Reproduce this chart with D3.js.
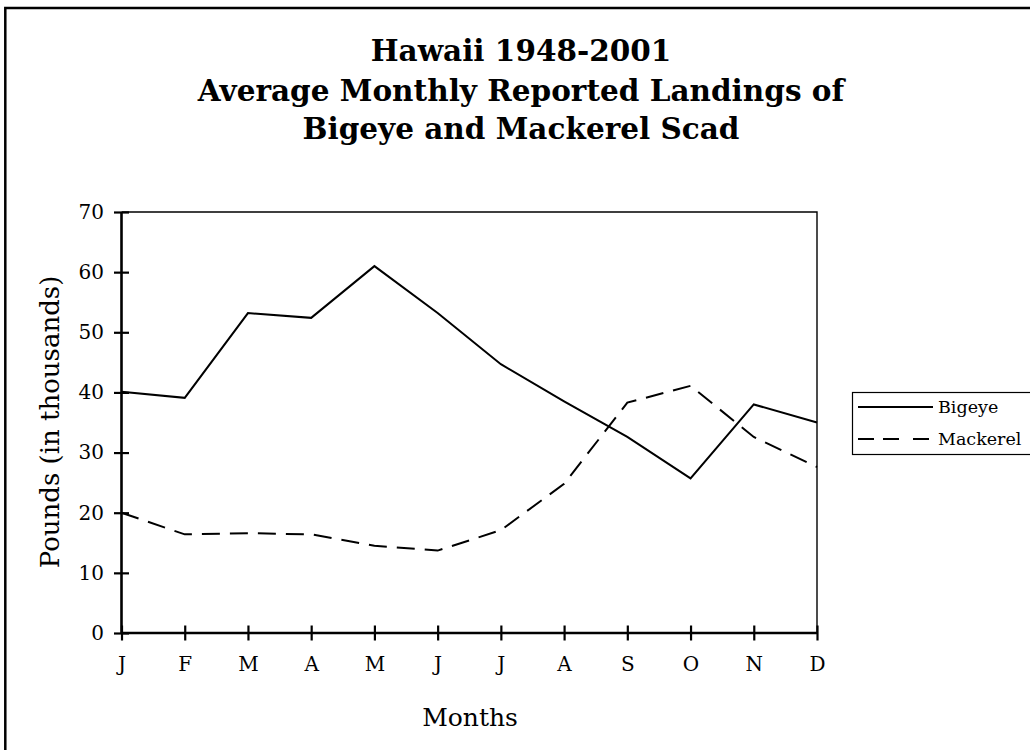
<!DOCTYPE html>
<html>
<head>
<meta charset="utf-8">
<script src="https://cdn.jsdelivr.net/npm/d3@7"></script>
<style>
  body { margin: 0; background: #fff; }
  svg { display: block; font-family: "DejaVu Serif", serif; }
  .axis path { display: none; }
</style>
</head>
<body>
<div id="chart"></div>
<script>
const months = ["J", "F", "M", "A", "M", "J", "J", "A", "S", "O", "N", "D"];
const bigeye = [40.1, 39.1, 53.2, 52.4, 61.0, 53.2, 44.7, 38.5, 32.6, 25.7, 38.0, 35.0];
const mackerel = [20.0, 16.4, 16.6, 16.4, 14.5, 13.7, 17.1, 24.8, 38.3, 41.1, 32.6, 27.6];
const yTicks = [0, 10, 20, 30, 40, 50, 60, 70];
const titleLines = ["Hawaii 1948-2001", "Average Monthly Reported Landings of", "Bigeye and Mackerel Scad"];
const seriesNames = ["Bigeye", "Mackerel"];

const width = 1030, height = 750;
const plot = {left: 121.5, top: 212, right: 817, bottom: 633};

const svg = d3.select("#chart").append("svg")
  .attr("width", width)
  .attr("height", height);

// outer frame (runs off the right and bottom edges)
svg.append("rect")
  .attr("x", 5.3).attr("y", 8)
  .attr("width", 1040).attr("height", 760)
  .attr("fill", "none")
  .attr("stroke", "#000")
  .attr("stroke-width", 2.5);

// title
svg.append("g")
  .selectAll("text")
  .data(titleLines)
  .join("text")
  .attr("x", 521)
  .attr("y", (d, i) => [61, 101, 139][i])
  .attr("text-anchor", "middle")
  .attr("font-weight", "bold")
  .attr("font-size", 29.5)
  .text(d => d);

const x = d3.scalePoint()
  .domain(d3.range(months.length))
  .range([plot.left, plot.right]);

const y = d3.scaleLinear()
  .domain([0, 70])
  .range([plot.bottom, plot.top]);

// plot frame top / right
svg.append("path")
  .attr("d", `M${plot.left},${plot.top}H${plot.right}V${plot.bottom}`)
  .attr("fill", "none")
  .attr("stroke", "#000")
  .attr("stroke-width", 1.4);

// y axis, ticks crossing the line
svg.append("g")
  .attr("class", "axis")
  .attr("transform", `translate(${plot.left},0)`)
  .call(d3.axisLeft(y).tickValues(yTicks).tickSize(7.5).tickPadding(10));
svg.append("g")
  .attr("class", "axis")
  .attr("transform", `translate(${plot.left},0)`)
  .call(d3.axisRight(y).tickValues(yTicks).tickSize(7.5).tickFormat(""));

svg.append("g")
  .attr("class", "axis")
  .attr("transform", `translate(0,${plot.bottom})`)
  .call(d3.axisBottom(x).tickSize(7.5).tickPadding(16).tickFormat(i => months[i]));
svg.append("g")
  .attr("class", "axis")
  .attr("transform", `translate(0,${plot.bottom})`)
  .call(d3.axisTop(x).tickSize(7.5).tickFormat(""));

svg.selectAll(".axis line").attr("stroke", "#000").attr("stroke-width", 2.2);
svg.selectAll(".axis text")
  .attr("font-family", "DejaVu Serif")
  .attr("font-size", 20)
  .attr("fill", "#000");

// axis lines
svg.append("line")
  .attr("x1", plot.left).attr("x2", plot.left)
  .attr("y1", plot.top).attr("y2", plot.bottom)
  .attr("stroke", "#000").attr("stroke-width", 2.6);
svg.append("line")
  .attr("x1", plot.left).attr("x2", plot.right)
  .attr("y1", plot.bottom).attr("y2", plot.bottom)
  .attr("stroke", "#000").attr("stroke-width", 2.6);

// axis titles
svg.append("text")
  .attr("x", 470).attr("y", 726)
  .attr("text-anchor", "middle")
  .attr("font-size", 25)
  .text("Months");

svg.append("text")
  .attr("transform", "translate(59,422) rotate(-90)")
  .attr("text-anchor", "middle")
  .attr("font-size", 26)
  .text("Pounds (in thousands)");

// series
const line = d3.line()
  .x((d, i) => x(i))
  .y(d => y(d));

svg.append("path")
  .datum(bigeye)
  .attr("d", line)
  .attr("fill", "none")
  .attr("stroke", "#000")
  .attr("stroke-width", 2)
  .attr("stroke-linejoin", "miter");

svg.append("path")
  .datum(mackerel)
  .attr("d", line)
  .attr("fill", "none")
  .attr("stroke", "#000")
  .attr("stroke-width", 2)
  .attr("stroke-dasharray", "18,10");

// legend
const legend = svg.append("g").attr("transform", "translate(852,392)");
legend.append("rect")
  .attr("x", 0.5).attr("y", 0.5)
  .attr("width", 190).attr("height", 62)
  .attr("fill", "#fff")
  .attr("stroke", "#000")
  .attr("stroke-width", 1.2);

const item = legend.selectAll(".item")
  .data(seriesNames)
  .join("g")
  .attr("class", "item")
  .attr("transform", (d, i) => `translate(0,${15 + i * 32})`);

item.append("line")
  .attr("x1", 6).attr("x2", 81)
  .attr("stroke", "#000")
  .attr("stroke-width", 2)
  .attr("stroke-dasharray", (d, i) => i === 1 ? "16,9,16,14,16,20" : null);

item.append("text")
  .attr("x", 86)
  .attr("dy", "0.35em")
  .attr("font-size", 17.5)
  .text(d => d);
</script>
</body>
</html>
